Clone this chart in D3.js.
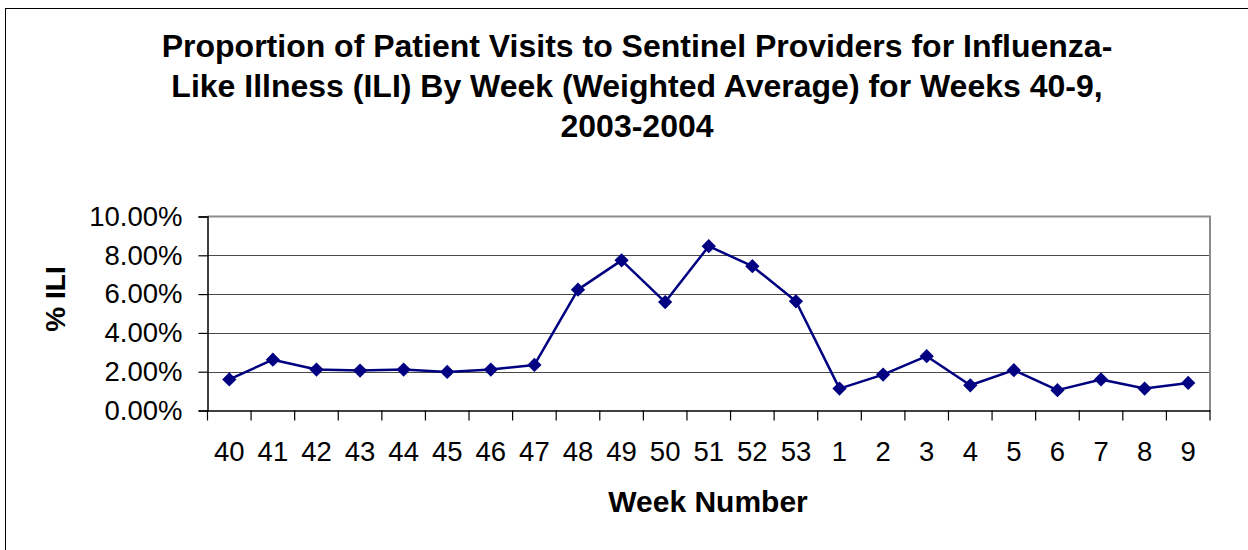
<!DOCTYPE html>
<html>
<head>
<meta charset="utf-8">
<script src="https://cdn.jsdelivr.net/npm/d3@7"></script>
<style>
  html, body { margin: 0; padding: 0; background: #fff; }
  svg { display: block; font-family: "Liberation Sans", Arial, sans-serif; }
</style>
</head>
<body>
<svg id="chart" width="1248" height="550"></svg>
<script>
const weeks = ["40","41","42","43","44","45","46","47","48","49","50","51","52","53","1","2","3","4","5","6","7","8","9"];
const iliValues = [0.0160,0.0262,0.0211,0.0206,0.0211,0.0199,0.0211,0.0235,0.0623,0.0774,0.0559,0.0847,0.0744,0.0563,0.0113,0.0185,0.0280,0.0130,0.0208,0.0105,0.0160,0.0113,0.0142];
const yTicks = [0, 0.02, 0.04, 0.06, 0.08, 0.10];
const titleLines = [
  "Proportion of Patient Visits to Sentinel Providers for Influenza-",
  "Like Illness (ILI) By Week (Weighted Average) for Weeks 40-9,",
  "2003-2004"
];
const xTitle = "Week Number";
const yTitle = "% ILI";

const svg = d3.select("#chart");
const pLeft = 207.5, pRight = 1210, pTop = 216.5, pBottom = 410.5;

// outer chart border
svg.append("rect").attr("x", 5.5).attr("y", 8.5).attr("width", 1260).attr("height", 560)
  .attr("fill", "#fff").attr("stroke", "#000").attr("stroke-width", 1);

const x = d3.scaleBand().domain(weeks).range([pLeft, pRight]).paddingInner(0).paddingOuter(0);
const y = d3.scaleLinear().domain([0, 0.10]).range([pBottom, pTop]);

// gridlines
svg.append("g").selectAll("line").data(yTicks.filter(t => t > 0 && t < 0.10)).join("line")
  .attr("x1", pLeft).attr("x2", pRight)
  .attr("y1", d => Math.round(y(d)) + 0.5).attr("y2", d => Math.round(y(d)) + 0.5)
  .attr("stroke", "#4a4a4a").attr("stroke-width", 1);

// plot border (top & right gray)
svg.append("path")
  .attr("d", `M${pLeft},${pTop}H${pRight}V${pBottom}`)
  .attr("fill", "none").attr("stroke", "#8c8c8c").attr("stroke-width", 2);

// y axis
const yAxis = d3.axisLeft(y).tickValues(yTicks).tickSize(9).tickPadding(16)
  .tickFormat(d => (d * 100).toFixed(2) + "%");
const gy = svg.append("g").attr("transform", `translate(${pLeft},0)`).call(yAxis);
gy.select(".domain").attr("stroke", "#000").attr("stroke-width", 1.5);
gy.selectAll(".tick line").attr("stroke", "#000").attr("stroke-width", 1.2);
gy.selectAll(".tick text").attr("font-size", "27.5px").attr("fill", "#000")
  .attr("font-family", '"Liberation Sans", Arial, sans-serif');

// x axis: ticks at category boundaries
const xAxis = d3.axisBottom(x).tickSize(0).tickPadding(31.3);
const gx = svg.append("g").attr("transform", `translate(0,${pBottom})`).call(xAxis);
gx.select(".domain").attr("stroke", "#000").attr("stroke-width", 1.5);
gx.selectAll(".tick text").attr("font-size", "27.5px").attr("fill", "#000")
  .attr("font-family", '"Liberation Sans", Arial, sans-serif');
const boundaries = weeks.map(w => x(w)).concat([x(weeks[weeks.length - 1]) + x.bandwidth()]);
svg.append("g").selectAll("line").data(boundaries).join("line")
  .attr("x1", d => d).attr("x2", d => d)
  .attr("y1", pBottom).attr("y2", pBottom + 10)
  .attr("stroke", "#000").attr("stroke-width", 1.2);

// line + markers
const pts = weeks.map((w, i) => [x(w) + x.bandwidth() / 2, y(iliValues[i])]);
svg.append("path")
  .attr("d", d3.line()(pts))
  .attr("fill", "none").attr("stroke", "#000080").attr("stroke-width", 2.5)
  .attr("stroke-linejoin", "round");
svg.append("g").selectAll("path").data(pts).join("path")
  .attr("d", d3.symbol().type(d3.symbolDiamond2).size(130))
  .attr("transform", d => `translate(${d[0]},${d[1]})`)
  .attr("fill", "#000080");

// title
svg.append("text").attr("x", 637).attr("y", 56.5)
  .attr("text-anchor", "middle").attr("font-weight", "bold").attr("font-size", "32px")
  .selectAll("tspan").data(titleLines).join("tspan")
  .attr("x", 637).attr("dy", (d, i) => i === 0 ? 0 : 40)
  .text(d => d);

// axis titles
svg.append("text").attr("x", 708).attr("y", 511.5)
  .attr("text-anchor", "middle").attr("font-weight", "bold").attr("font-size", "30px")
  .text(xTitle);
svg.append("text")
  .attr("transform", "translate(65,299) rotate(-90)")
  .attr("text-anchor", "middle").attr("font-weight", "bold").attr("font-size", "28px")
  .text(yTitle);
</script>
</body>
</html>
